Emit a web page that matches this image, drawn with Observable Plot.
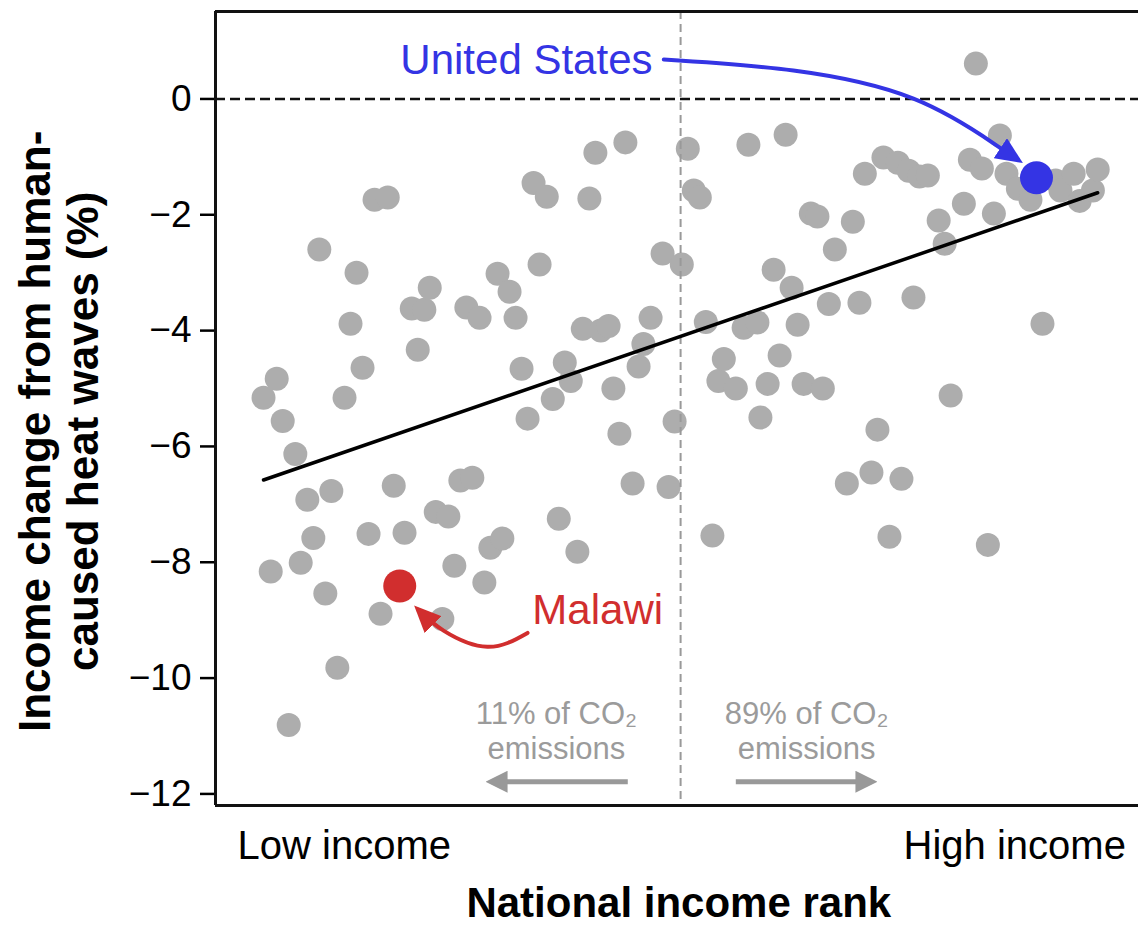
<!DOCTYPE html>
<html>
<head>
<meta charset="utf-8">
<script src="https://cdn.jsdelivr.net/npm/d3@7"></script>
<script src="https://cdn.jsdelivr.net/npm/@observablehq/plot@0.6"></script>
<style>
  html, body { margin: 0; padding: 0; background: #fff; }
  #chart svg { display: block; }
</style>
</head>
<body>
<div id="chart"></div>
<script>
// ---- Data ----
// National income rank (low -> high) and income change from human-caused heat waves (%)
const rank = [
  1.0, 2.2, 3.2, 4.2, 5.2, 6.3, 7.2, 8.3, 9.3, 10.3,
  11.3, 12.3, 13.3, 14.5, 15.5, 16.5, 17.5, 18.5, 19.5, 20.5,
  21.7, 22.7, 24.5, 25.7, 26.7, 27.8, 28.7, 29.7, 30.8, 31.8,
  32.8, 33.8, 34.8, 35.8, 37.0, 37.8, 38.8, 40.0, 40.8, 42.0,
  43.0, 44.0, 45.0, 46.0, 47.0, 48.2, 49.2, 50.2, 51.2, 52.2,
  53.3, 54.2, 55.3, 56.3, 57.2, 58.5, 59.3, 60.3, 61.3, 62.5,
  63.5, 64.3, 65.5, 67.5, 68.5, 69.5, 70.7, 71.7, 72.7, 73.7,
  74.7, 75.8, 76.8, 77.7, 79.7, 81.0, 81.8, 83.3, 83.8, 85.0,
  86.0, 87.0, 88.0, 89.0, 90.0, 91.0, 92.2, 93.3, 94.2, 95.2,
  96.2, 98.2, 99.2, 100.3, 101.2, 102.3, 103.3, 104.3, 105.3, 106.7,
  107.3, 108.5, 109.3, 110.3, 111.7, 113.5, 114.5, 115.5, 117.7, 118.7,
  119.7, 120.7, 121.7, 122.7, 123.7, 124.8, 126.7, 128.8, 130.8, 133.0,
  133.8, 136.0, 137.0, 139.2, 140.0
];
const change = [
  -5.16, -8.16, -4.83, -5.56, -10.81, -6.13, -8.01, -6.92, -7.58, -2.60,
  -8.54, -6.77, -9.82, -5.16, -3.88, -3.00, -4.64, -7.51, -1.74, -8.89,
  -1.70, -6.68, -7.49, -3.62, -4.33, -3.64, -3.26, -7.13, -8.98, -7.21,
  -8.06, -6.59, -3.60, -6.54, -3.78, -8.35, -7.75, -3.02, -7.59, -3.33,
  -3.78, -4.66, -5.52, -1.45, -2.86, -1.69, -5.18, -7.25, -4.55, -4.87,
  -7.82, -3.97, -1.72, -0.93, -4.00, -3.92, -5.00, -5.78, -0.75, -6.64,
  -4.62, -4.23, -3.78, -2.67, -6.70, -5.57, -2.86, -0.86, -1.58, -1.70,
  -3.85, -7.54, -4.87, -4.49, -5.00, -3.95, -0.79, -3.86, -5.50, -4.92,
  -2.95, -4.43, -0.62, -3.26, -3.90, -4.92, -1.98, -2.03, -5.00, -3.54,
  -2.60, -6.64, -2.12, -3.52, -1.29, -6.45, -5.71, -1.01, -7.56, -1.10,
  -6.56, -1.24, -3.43, -1.34, -1.32, -2.10, -2.50, -5.12, -1.81, -1.05,
  0.61, -1.20, -7.70, -1.98, -0.63, -1.29, -1.55, -1.74, -3.88, -1.41,
  -1.58, -1.29, -1.76, -1.58, -1.22
];

// Highlighted countries
const highlightName = ["United States", "Malawi"];
const highlightRank = [129.8, 23.7];
const highlightChange = [-1.36, -8.41];

// Fitted trend line endpoints
const fitRank = [1, 140];
const fitChange = [-6.58, -1.62];

// Split between the two emission groups (rank)
const splitRank = [70.5];

// Axis ticks and labels
const yTicks = [0, -2, -4, -6, -8, -10, -12];
const xLowLabel = "Low income";
const xHighLabel = "High income";
const xTitle = "National income rank";
const yTitleLines = ["Income change from human-", "caused heat waves (%)"];
const co2Labels = ["11% of CO\u2082\nemissions", "89% of CO\u2082\nemissions"];

// Annotation anchors (data coordinates)
const labelRank = [23.8, 45.8];
const labelChange = [0.95, -8.55];
const co2LabelRank = [49.8, 91.5];
const usArrowRank = [67.7, 89.3, 109.3, 122.7, 126.7];
const usArrowChange = [0.68, 0.49, 0.005, -0.77, -1.05];
const mwArrowRank = [45.0, 38.3, 31.0, 26.8];
const mwArrowChange = [-9.22, -9.46, -9.18, -8.82];
const co2ArrowFrom = [61.7, 79.7];
const co2ArrowTo = [39.0, 102.3];

// ---- Helpers ----
const fmt = d => d < 0 ? "\u2212" + Math.abs(d) : String(d);

function filledHead(len, half, tip) {
  return (color) => {
    const ns = "http://www.w3.org/2000/svg";
    const m = document.createElementNS(ns, "marker");
    m.setAttribute("viewBox", `${-len + tip} ${-half} ${len} ${2 * half}`);
    m.setAttribute("markerWidth", len);
    m.setAttribute("markerHeight", 2 * half);
    m.setAttribute("markerUnits", "userSpaceOnUse");
    m.setAttribute("refX", 0);
    m.setAttribute("refY", 0);
    m.setAttribute("orient", "auto");
    const p = document.createElementNS(ns, "path");
    p.setAttribute("d", `M${-len + tip},${-half}L${tip},0L${-len + tip},${half}Z`);
    p.setAttribute("fill", color);
    p.setAttribute("stroke", "none");
    m.appendChild(p);
    return m;
  };
}

const BLUE = "#3434e4";
const RED = "#d12e2e";
const GREY_DOT = "#adadad";
const GREY_TXT = "#9b9b9b";
const FONT = "'Liberation Sans', Arial, Helvetica, sans-serif";

const yMin = -12.2, yMax = 1.51, xMin = -7, xMax = 146.8;

const chart = Plot.plot({
  width: 1138,
  height: 926,
  marginLeft: 215,
  marginRight: 0,
  marginTop: 11,
  marginBottom: 121,
  style: { fontFamily: FONT, background: "#fff", overflow: "visible", color: "#000" },
  x: { domain: [xMin, xMax], axis: null },
  y: { domain: [yMin, yMax], axis: null },
  marks: [
    // y axis ticks + labels
    Plot.axisY({
      ticks: yTicks, tickFormat: fmt, tickSize: 15, tickPadding: 9,
      fontSize: 37, strokeWidth: 2.5, stroke: "#000", fill: "#000", label: null
    }),
    // grey country dots
    Plot.dot(change, { x: rank, y: change, r: 12, fill: GREY_DOT }),
    // zero line
    Plot.ruleY([0], { stroke: "#111", strokeWidth: 2.5, strokeDasharray: "10,5" }),
    // split line
    Plot.ruleX(splitRank, { stroke: "#999", strokeWidth: 2, strokeDasharray: "8,5" }),
    // trend line
    Plot.line(fitChange, { x: fitRank, y: fitChange, stroke: "#000", strokeWidth: 3.5 }),
    // frame (left, top, bottom)
    Plot.ruleX([xMin], { stroke: "#111", strokeWidth: 3 }),
    Plot.ruleY([yMin, yMax], { stroke: "#111", strokeWidth: 3 }),
    // CO2 arrows and labels
    Plot.link([0, 1], {
      x1: i => co2ArrowFrom[i], x2: i => co2ArrowTo[i],
      y1: -11.79, y2: -11.79,
      stroke: "#999", strokeWidth: 5, markerEnd: filledHead(22, 11, 6)
    }),
    Plot.text(co2Labels, {
      x: co2LabelRank, y: -10.36, text: d => d, fill: GREY_TXT,
      fontSize: 31, lineAnchor: "top", lineHeight: 1.13, textAnchor: "middle"
    }),
    // highlight arrows
    Plot.line(usArrowChange, {
      x: usArrowRank, y: usArrowChange, curve: "natural",
      stroke: BLUE, strokeWidth: 4, markerEnd: filledHead(27, 12, 6)
    }),
    Plot.line(mwArrowChange, {
      x: mwArrowRank, y: mwArrowChange, curve: "natural",
      stroke: RED, strokeWidth: 4, markerEnd: filledHead(27, 12, 6)
    }),
    // highlighted dots
    Plot.dot(highlightChange, {
      x: highlightRank, y: highlightChange, r: 16.5,
      fill: (d, i) => (i === 0 ? BLUE : RED)
    }),
    // highlighted labels
    Plot.text(highlightName, {
      x: labelRank, y: labelChange, text: d => d,
      fill: (d, i) => (i === 0 ? BLUE : RED),
      fontSize: 42, lineAnchor: "top", textAnchor: "start"
    }),
    // x end labels
    Plot.text([xLowLabel], {
      x: -3.33, y: -12.63, text: d => d, textAnchor: "start",
      fontSize: 40, lineAnchor: "top", fill: "#000"
    }),
    Plot.text([xHighLabel], {
      x: 144.7, y: -12.63, text: d => d, textAnchor: "end",
      fontSize: 40, lineAnchor: "top", fill: "#000"
    }),
    // x axis title
    Plot.text([xTitle], {
      x: 70.2, y: -13.61, text: d => d, fontSize: 42, fontWeight: "bold",
      lineAnchor: "top", textAnchor: "middle", fill: "#000"
    }),
    // y axis title (two rotated lines)
    Plot.text(yTitleLines, {
      x: [-37.0, -29.0], y: -5.74, text: d => d, fontSize: 44, fontWeight: "bold",
      rotate: -90, lineAnchor: "middle", textAnchor: "middle", fill: "#000"
    })
  ]
});

document.getElementById("chart").appendChild(chart);
</script>
</body>
</html>
